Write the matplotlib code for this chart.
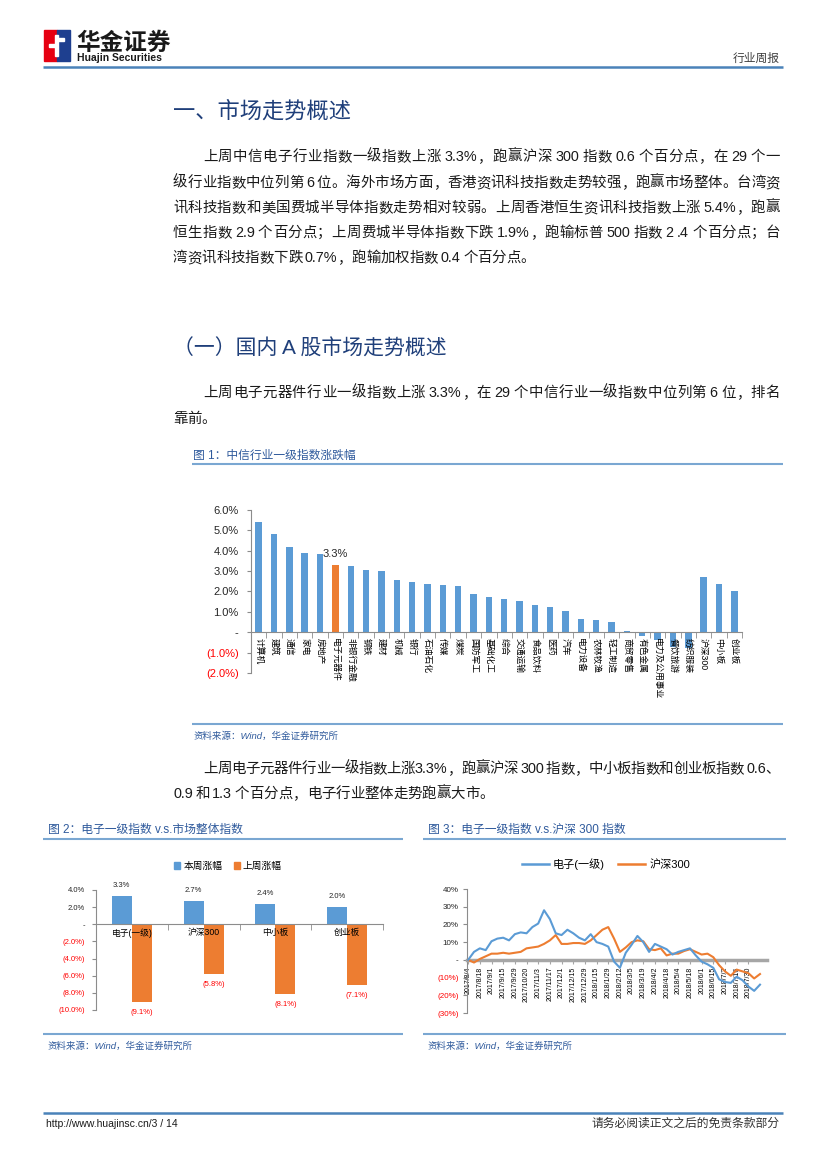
import re
import numpy as np
import matplotlib
matplotlib.use('Agg')
import matplotlib.pyplot as plt
from matplotlib.patches import Rectangle, Patch
from matplotlib.lines import Line2D

plt.rcParams['font.family'] = ['Liberation Sans', 'Noto Sans CJK SC', 'DejaVu Sans']
plt.rcParams['axes.unicode_minus'] = False

W, H = 827, 1169

# 图1 中信一级行业 + 指数 周涨跌幅(%)
industries = ['计算机', '建筑', '通信', '家电', '房地产', '电子元器件', '非银行金融', '钢铁',
              '建材', '机械', '银行', '石油石化', '传媒', '煤炭', '国防军工', '基础化工',
              '综合', '交通运输', '食品饮料', '医药', '汽车', '电力设备', '农林牧渔', '轻工制造',
              '商贸零售', '有色金属', '电力及公用事业', '餐饮旅游', '纺织服装', '沪深300',
              '中小板', '创业板']
ind_chg = [5.4, 4.8, 4.2, 3.9, 3.85, 3.3, 3.25, 3.05, 3.0, 2.55, 2.45, 2.35, 2.3, 2.25,
           1.9, 1.75, 1.65, 1.55, 1.35, 1.25, 1.05, 0.65, 0.6, 0.5, 0.05, -0.2, -0.4,
           -0.7, -0.75, 2.7, 2.35, 2.0]

# 图2
idx_names = ['电子(一级)', '沪深300', '中小板', '创业板']
this_week = [3.3, 2.7, 2.4, 2.0]
last_week = [-9.1, -5.8, -8.1, -7.1]

# 图3 (weekly readings, %)
week_labels = ['2017/8/4', '2017/8/18', '2017/9/1', '2017/9/15', '2017/9/29', '2017/10/20',
               '2017/11/3', '2017/11/17', '2017/12/1', '2017/12/15', '2017/12/29', '2018/1/15',
               '2018/1/29', '2018/2/12', '2018/3/5', '2018/3/19', '2018/4/2', '2018/4/18',
               '2018/5/4', '2018/5/18', '2018/6/1', '2018/6/15', '2018/7/2', '2018/7/16',
               '2018/7/30']
elec = [0.0, 4.5, 6.5, 5.5, 10.5, 12.0, 12.5, 11.0, 14.5, 15.5, 15.0, 18.5, 20.5, 28.0,
        23.0, 15.0, 14.0, 17.0, 15.0, 12.5, 11.0, 14.5, 10.0, 9.0, 7.5, -1.0, -4.5, 4.0,
        8.5, 13.5, 10.0, 4.5, 9.0, 7.5, 6.0, 3.0, 4.5, 5.5, 6.5, 2.5, -1.0, -2.5, -4.5,
        -11.0, -12.5, -13.0, -9.5, -11.5, -15.0, -17.5, -14.0]
hs300 = [0.0, -1.5, 0.5, 2.0, 3.5, 3.5, 4.0, 3.5, 4.0, 4.5, 6.5, 7.0, 7.5, 9.0, 11.0,
         14.0, 9.0, 9.0, 9.5, 9.5, 9.0, 11.0, 14.0, 17.0, 18.5, 12.0, 4.5, 7.0, 10.0,
         11.0, 10.5, 6.0, 5.5, 6.5, 2.5, 3.5, 3.5, 5.0, 6.0, 4.5, 3.0, 3.5, 1.5, -3.0,
         -6.5, -9.0, -5.5, -6.5, -7.5, -10.5, -8.0]

BLUE = '#5b9bd5'
ORANGE = '#ed7d31'
RED = '#ff0000'
GRAY = '#8c8c8c'
NAVY = '#1f3f7a'
CAP = '#2f5a9c'
RULE = '#4a82b9'
LRULE = '#7aa7d2'
TXT = '#1a1a1a'

fig = plt.figure(figsize=(W / 100, H / 100), dpi=100)
page = fig.add_axes([0, 0, 1, 1])
page.set_xlim(0, W)
page.set_ylim(H, 0)
page.axis('off')
renderer = fig.canvas.get_renderer()


def box(l, t, r, b):
    return fig.add_axes([l / W, 1 - b / H, (r - l) / W, (b - t) / H])


def line_text(y, s, x0, x1=None, size=10.4, color=TXT):
    # one line of body text, justified to x1 if given
    toks = re.findall(r'[A-Za-z0-9.%/:()]+| |.', s)
    arts, widths = [], []
    for tk in toks:
        if tk == ' ':
            arts.append(None)
            widths.append(size * 0.25)
            continue
        t = page.text(0, y + 5, tk, fontsize=size, color=color, va='baseline', ha='left')
        arts.append(t)
        widths.append(t.get_window_extent(renderer).width)
    gap = 0
    if x1 is not None and len(toks) > 1:
        gap = (x1 - x0 - sum(widths)) / (len(toks) - 1)
    x = x0
    for a, w in zip(arts, widths):
        if a is not None:
            a.set_x(x)
        x += w + gap


def rule(x0, x1, y, color=LRULE, lw=1.5):
    page.plot([x0, x1], [y, y], color=color, lw=lw, solid_capstyle='butt')


# ---- header
page.add_patch(Rectangle((44, 30), 13, 31, color='#e60012'))
page.add_patch(Rectangle((57, 30), 13, 31, color='#1e3f8f'))
page.add_patch(Rectangle((55, 35), 3, 21, color='white'))
page.add_patch(Rectangle((49, 44), 8, 3, color='white'))
page.add_patch(Rectangle((58, 38), 6, 3, color='white'))
page.text(76, 50, '华金证券', fontsize=17, fontweight='bold', color='#1a1a1a', va='baseline')
page.text(77, 61, 'Huajin Securities', fontsize=7.5, fontweight='bold', color='#1a1a1a',
          va='baseline')
page.text(780, 62, '行业周报', fontsize=8.5, color='#404040', ha='right', va='baseline')
rule(43, 783, 67, color=RULE, lw=1.8)

# ---- section text
page.text(173, 118, '一、市场走势概述', fontsize=16, color=NAVY, va='baseline')
p1 = ['上周中信电子行业指数一级指数上涨 3.3%，跑赢沪深 300 指数 0.6 个百分点，在 29 个一',
      '级行业指数中位列第 6 位。海外市场方面，香港资讯科技指数走势较强，跑赢市场整体。台湾资',
      '讯科技指数和美国费城半导体指数走势相对较弱。上周香港恒生资讯科技指数上涨 5.4%，跑赢',
      '恒生指数 2.9 个百分点；上周费城半导体指数下跌 1.9%，跑输标普 500 指数 2 .4 个百分点；台',
      '湾资讯科技指数下跌 0.7%，跑输加权指数 0.4 个百分点。']
p1_y = [156, 182, 207, 232, 257]
for i, (s, y) in enumerate(zip(p1, p1_y)):
    line_text(y, s, 203 if i == 0 else 173, 780 if i < len(p1) - 1 else None)

page.text(173, 355, '（一）国内 A 股市场走势概述', fontsize=15, color=NAVY, va='baseline')
line_text(392, '上周电子元器件行业一级指数上涨 3.3%，在 29 个中信行业一级指数中位列第 6 位，排名', 203, 780)
line_text(418, '靠前。', 173)

page.text(193, 459, '图 1：中信行业一级指数涨跌幅', fontsize=8.5, color=CAP, va='baseline')
rule(192, 783, 463.5)
rule(192, 783, 724)
page.text(193, 739, '资料来源：Wind，华金证券研究所', fontsize=6.8, color=CAP, style='italic',
          va='baseline')

line_text(768, '上周电子元器件行业一级指数上涨3.3%，跑赢沪深 300 指数，中小板指数和创业板指数 0.6、', 203, 780)
line_text(793, '0.9 和 1.3 个百分点，电子行业整体走势跑赢大市。', 173)

page.text(48, 833, '图 2：电子一级指数 v.s.市场整体指数', fontsize=8.5, color=CAP, va='baseline')
rule(43, 403, 839)
page.text(428, 833, '图 3：电子一级指数 v.s.沪深 300 指数', fontsize=8.5, color=CAP, va='baseline')
rule(423, 786, 839)
rule(43, 403, 1034)
rule(423, 786, 1034)
page.text(48, 1049, '资料来源：Wind，华金证券研究所', fontsize=6.8, color=CAP, style='italic',
          va='baseline')
page.text(428, 1049, '资料来源：Wind，华金证券研究所', fontsize=6.8, color=CAP, style='italic',
          va='baseline')

# ---- footer
rule(43, 783, 1113, color=RULE, lw=1.8)
page.text(46, 1127, 'http://www.huajinsc.cn/3 / 14', fontsize=7.5, color='#1a1a1a', va='baseline')
page.text(780, 1127, '请务必阅读正文之后的免责条款部分', fontsize=8.5, color='#333333', ha='right',
          va='baseline')


def pct_label(v, fmt):
    if v == 0:
        return '-'
    if v < 0:
        return '(' + fmt.format(-v) + ')'
    return fmt.format(v)


def style_axes(ax, yt, fmt, ysize, ypad):
    for sp in ['top', 'right']:
        ax.spines[sp].set_visible(False)
    ax.spines['bottom'].set_position(('data', 0))
    ax.spines['bottom'].set_color(GRAY)
    ax.spines['left'].set_color(GRAY)
    ax.spines['left'].set_linewidth(0.8)
    ax.set_yticks(yt)
    ax.set_yticklabels([pct_label(v, fmt) for v in yt])
    ax.tick_params(axis='y', length=3, color=GRAY, labelsize=ysize, pad=ypad, labelcolor='#262626')
    for lab, v in zip(ax.get_yticklabels(), yt):
        if v < 0:
            lab.set_color(RED)
    ax.patch.set_alpha(0)


# ---- chart 1
ax1 = box(251, 510, 742, 673)
n = len(industries)
cols = [ORANGE if s == '电子元器件' else BLUE for s in industries]
ax1.bar(np.arange(n), ind_chg, width=0.42, color=cols, zorder=2)
ax1.set_axisbelow(False)
ax1.set_xlim(-0.5, n - 0.5)
ax1.set_ylim(-2, 6)
style_axes(ax1, list(range(-2, 7)), '{:.1f}%', 8, 6)
ax1.set_xticks(np.arange(n))
ax1.set_xticklabels(industries, rotation=-90, fontsize=6.3)
ax1.tick_params(axis='x', which='major', length=0, pad=4)
ax1.set_xticks(np.arange(n + 1) - 0.5, minor=True)
ax1.tick_params(axis='x', which='minor', length=4, color=GRAY)
k = industries.index('电子元器件')
ax1.text(k, ind_chg[k] + 0.3, '3.3%', ha='center', va='bottom', fontsize=8, color='#262626')

# ---- chart 2
ax2 = box(96, 890, 383, 1010)
x = np.arange(len(idx_names))
ax2.bar(x - 0.14, this_week, 0.28, color=BLUE, zorder=2)
ax2.bar(x + 0.14, last_week, 0.28, color=ORANGE, zorder=2)
ax2.set_axisbelow(False)
ax2.set_xlim(-0.5, len(idx_names) - 0.5)
ax2.set_ylim(-10, 4)
style_axes(ax2, list(range(-10, 5, 2)), '{:.1f}%', 5.5, 5)
ax2.set_xticks(x)
ax2.set_xticklabels(idx_names, fontsize=6.3)
ax2.tick_params(axis='x', which='major', length=0, pad=3)
ax2.set_xticks(np.arange(len(idx_names) + 1) - 0.5, minor=True)
ax2.tick_params(axis='x', which='minor', length=4, color=GRAY)
for xi, v in zip(x, this_week):
    ax2.annotate('{:.1f}%'.format(v), (xi - 0.14, v), xytext=(0, 5), textcoords='offset points',
                 ha='center', va='bottom', fontsize=5.5, color='#262626')
for xi, v in zip(x, last_week):
    ax2.annotate('({:.1f}%)'.format(-v), (xi + 0.14, v), xytext=(0, -5),
                 textcoords='offset points', ha='center', va='top', fontsize=5.5, color=RED)
fig.legend(handles=[Patch(color=BLUE), Patch(color=ORANGE)], labels=['本周涨幅', '上周涨幅'],
           loc='center', bbox_to_anchor=(228 / W, 1 - 866 / H), ncol=2, frameon=False,
           fontsize=7, handlelength=0.6, handleheight=0.6, columnspacing=1.2, handletextpad=0.3)

# ---- chart 3
ax3 = box(467, 889, 767, 1013)
wk = np.arange(len(elec))
ax3.plot(wk, hs300, color=ORANGE, lw=1.5, zorder=3)
ax3.plot(wk, elec, color=BLUE, lw=1.5, zorder=3)
ax3.set_xlim(-0.2, 51.2)
ax3.set_ylim(-30, 40)
style_axes(ax3, list(range(-30, 41, 10)), '{:.0f}%', 5.8, 3)
ax3.spines['bottom'].set_color('#a6a6a6')
ax3.spines['bottom'].set_linewidth(2.5)
ax3.set_xticks(np.arange(0, 2 * len(week_labels), 2))
ax3.set_xticklabels(week_labels, rotation=90, fontsize=5)
ax3.tick_params(axis='x', length=3, color='#a6a6a6', pad=2)
fig.legend(handles=[Line2D([], [], color=BLUE, lw=1.8), Line2D([], [], color=ORANGE, lw=1.8)],
           labels=['电子(一级)', '沪深300'], loc='center', bbox_to_anchor=(606 / W, 1 - 864 / H),
           ncol=2, frameon=False, fontsize=8, handlelength=2.4, columnspacing=1.2,
           handletextpad=0.4)

fig.savefig('out.png', dpi=100)
